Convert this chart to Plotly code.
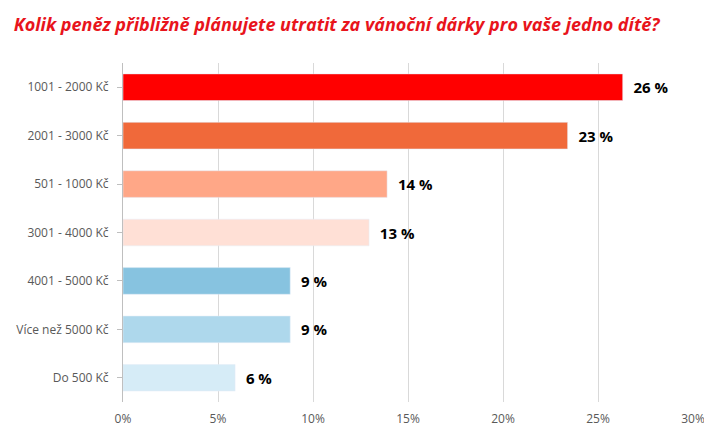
import plotly.graph_objects as go

categories = ["1001 - 2000 Kč", "2001 - 3000 Kč", "501 - 1000 Kč", "3001 - 4000 Kč",
              "4001 - 5000 Kč", "Více než 5000 Kč", "Do 500 Kč"]
values = [26.3, 23.4, 13.9, 12.95, 8.8, 8.8, 5.9]
labels = ["  26 %", "  23 %", "  14 %", "  13 %", "  9 %", "  9 %", "  6 %"]
colors = ["#FF0000", "#F0693A", "#FFA787", "#FFE0D6", "#87C3E0", "#AED8EC", "#D6ECF7"]

fig = go.Figure(go.Bar(
    y=categories, x=values, orientation="h", marker_color=colors,
    text=labels, textposition="outside",
    textfont=dict(family="Open Sans", size=15, color="black", weight="bold"),
    cliponaxis=False,
))
fig.update_layout(
    width=712, height=429, paper_bgcolor="white", plot_bgcolor="white",
    margin=dict(l=115, r=27, t=55, b=35, autoexpand=False), bargap=0.45, showlegend=False,
    title=dict(text="<b><i>Kolik peněz přibližně plánujete utratit za vánoční dárky pro vaše jedno dítě?</i></b>",
               x=0.008, xanchor="left", y=0.975, yanchor="top",
               font=dict(family="Open Sans", size=18, color="#E8141C")),
    font=dict(family="Open Sans", color="#595959", size=12),
)
fig.update_xaxes(range=[0, 30], dtick=5, ticksuffix="%", showgrid=True, gridcolor="#D9D9D9",
                 zeroline=False, showline=False, ticklabelstandoff=8)
fig.update_yaxes(autorange="reversed", showline=True, linecolor="#BFBFBF", ticks="outside",
                 tickcolor="#BFBFBF", ticklen=5, ticklabelstandoff=6)
fig.write_html("out.html")
